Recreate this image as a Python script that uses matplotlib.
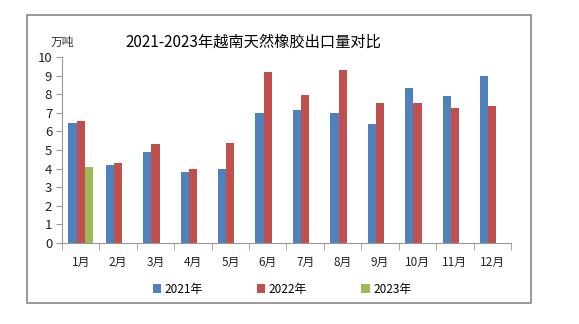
import numpy as np
import matplotlib.pyplot as plt
from matplotlib.patches import Rectangle

plt.rcParams['font.family'] = ['Noto Sans CJK SC', 'DejaVu Sans']

# data (万吨)
months = ['1月', '2月', '3月', '4月', '5月', '6月', '7月', '8月', '9月', '10月', '11月', '12月']
y2021 = [6.47, 4.21, 4.91, 3.82, 3.99, 6.97, 7.15, 6.97, 6.38, 8.33, 7.89, 8.98]
y2022 = [6.56, 4.30, 5.31, 3.96, 5.38, 9.18, 7.96, 9.30, 7.51, 7.54, 7.27, 7.35]
y2023 = [4.07]
series = ['2021年', '2022年', '2023年']
colors = ['#4F81BD', '#C0504D', '#9BBB59']

fig = plt.figure(figsize=(5.79, 3.24), dpi=100)
ax = fig.add_axes([0.107, 0.25, 0.7756, 0.574])

x = np.arange(len(months))
w = 0.22
ax.bar(x - w, y2021, w, color=colors[0], label=series[0])
ax.bar(x, y2022, w, color=colors[1], label=series[1])
ax.bar(x[:len(y2023)] + w, y2023, w, color=colors[2], label=series[2])

ax.set_xlim(-0.5, len(months) - 0.5)
ax.set_ylim(0, 10)
ax.set_yticks(range(0, 11))
ax.set_xticks(x)
ax.set_xticklabels(months)
ax.set_xticks(np.arange(-0.5, len(months), 1), minor=True)
ax.tick_params(axis='x', which='major', length=0, pad=9, labelsize=8.5, labelcolor='#222222')
ax.tick_params(axis='x', which='minor', length=5, color='#999999', direction='out')
ax.tick_params(axis='y', length=4, color='#999999', labelsize=9.5, pad=3, labelcolor='#222222')
for s in ['top', 'right']:
    ax.spines[s].set_visible(False)
for s in ['left', 'bottom']:
    ax.spines[s].set_color('#999999')

fig.text(0.108, 0.87, '万吨', fontsize=8.5, ha='center', va='center', color='#333333')
fig.text(0.437, 0.87, '2021-2023年越南天然橡胶出口量对比', fontsize=11,
         ha='center', va='center', color='black')

fig.legend(loc='center', bbox_to_anchor=(0.487, 0.108), ncol=3, frameon=False,
           fontsize=8.5, handlelength=0.7, handleheight=0.7, handletextpad=0.3,
           columnspacing=4.6)

# outer frame
fig.patches.append(Rectangle((0.0466, 0.0648), 0.8705, 0.889, transform=fig.transFigure,
                             fill=False, edgecolor='#888888', linewidth=1.2))

plt.savefig('out.png', dpi=100)
